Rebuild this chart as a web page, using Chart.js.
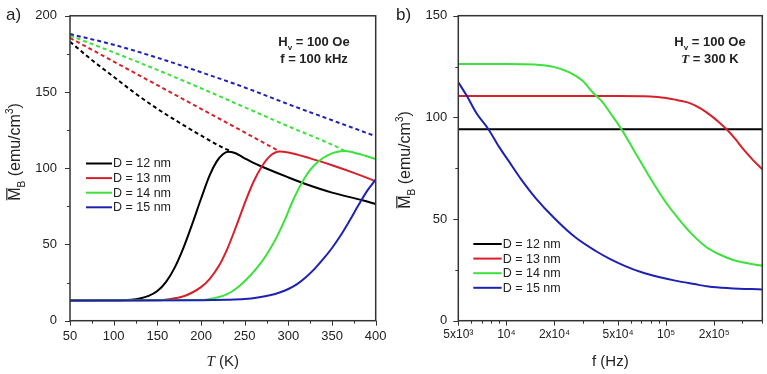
<!DOCTYPE html>
<html>
<head>
<meta charset="utf-8">
<script src="https://cdn.jsdelivr.net/npm/chart.js@4.4.0/dist/chart.umd.min.js"></script>
<style>
  body { margin: 0; background: #fff; }
  #wrap { position: relative; width: 767px; height: 374px; }
  #wrap canvas { position: absolute; top: 0; }
</style>
</head>
<body>
<div id="wrap">
  <canvas id="chartA" width="390" height="374" style="left:0"></canvas>
  <canvas id="chartB" width="377" height="374" style="left:390px"></canvas>
</div>
<script>
const seriesLabels = ["D = 12 nm", "D = 13 nm", "D = 14 nm", "D = 15 nm"];
const seriesColors = ["#000000", "#d8202a", "#3be23a", "#1e22b4"];

// panel a) temperature sweep, solid curves
const tSolid12 = [50, 110, 120, 130, 140, 150, 160, 170, 180, 190, 200, 210, 218, 225, 231, 238, 248, 260, 270, 300, 323, 350, 385, 400];
const mSolid12 = [13.3, 13.4, 13.7, 14.6, 16.3, 19.5, 25.5, 35, 48, 63.5, 80, 95.5, 104.5, 109.2, 110.8, 110.2, 107.2, 103.5, 101, 94, 89, 84, 79, 76.5];
const tSolid13 = [50, 150, 165, 180, 190, 200, 210, 220, 230, 240, 250, 260, 270, 280, 290, 300, 325, 350, 375, 400];
const mSolid13 = [13.3, 13.4, 14.2, 16, 18.5, 22, 27.5, 35.5, 47, 61.5, 77, 91, 101.5, 108.5, 111, 110.3, 106.5, 102, 97, 91.5];
const tSolid14 = [50, 200, 215, 225, 235, 245, 255, 265, 275, 285, 295, 305, 315, 325, 335, 345, 355, 365, 380, 400];
const mSolid14 = [13.3, 13.5, 14.8, 16.3, 19, 23.3, 28.8, 35.3, 43.3, 53, 65, 78.5, 90, 99, 104.8, 108.5, 110.6, 111.3, 109.5, 106];
const tSolid15 = [50, 200, 230, 250, 265, 280, 290, 300, 310, 320, 330, 340, 350, 360, 370, 380, 390, 400];
const mSolid15 = [13.3, 13.4, 13.7, 14.2, 15.2, 16.8, 18.5, 20.8, 24, 28.5, 34, 40.5, 47.7, 56, 65.5, 75.5, 85, 92.5];

// panel a) dashed extensions of the high-T branch
const tDash12 = [50, 75, 100, 125, 150, 175, 200, 225, 235];
const mDash12 = [183, 171, 160, 149, 139, 130, 121.5, 113.5, 111];
const tDash13 = [50, 100, 150, 200, 250, 290];
const mDash13 = [185.5, 170, 154.5, 139, 123.5, 111];
const tDash14 = [50, 100, 150, 200, 250, 300, 350, 365];
const mDash14 = [187, 176, 164.5, 152.5, 140, 127.5, 115.5, 111.3];
const tDash15 = [50, 100, 150, 200, 250, 300, 350, 400];
const mDash15 = [188, 181, 172.5, 163, 153, 142, 131.5, 121];

// panel b) frequency sweep at 300 K
const fB12 = [5000, 400000];
const mB12 = [94.2, 94.2];
const fB13 = [5000, 50000, 80000, 100000, 120000, 142000, 165000, 190000, 215000, 240000, 270000, 307000, 350000, 400000];
const mB13 = [110.5, 110.5, 110.3, 109.5, 108.3, 106.9, 104.3, 101, 97.5, 94, 89.5, 84, 79, 74.5];
const fB14 = [5000, 10000, 15000, 20000, 25000, 30000, 35000, 40000, 45000, 52500, 60000, 70000, 85000, 100000, 120000, 145000, 180000, 213000, 260000, 300000, 400000];
const mB14 = [126.3, 126.3, 126, 124.7, 122, 118, 112, 107.5, 101.8, 94.2, 86.5, 77.5, 66.5, 58, 50, 42.6, 36, 32.8, 30, 28.7, 27];
const fB15 = [5000, 5640, 6500, 7700, 9000, 10300, 12500, 15100, 20200, 27000, 36000, 44700, 55000, 70300, 90000, 114000, 150000, 184000, 250000, 400000];
const mB15 = [117.3, 110.7, 102, 94.3, 85.5, 78.7, 69, 60.7, 50, 41, 34.4, 30.3, 27, 23.8, 21.5, 19.7, 18, 16.8, 16, 15.4];

// tick marks and labels
const freqTicks = [5000, 6000, 7000, 8000, 9000, 10000, 20000, 30000, 40000, 50000, 60000, 70000, 80000, 90000, 100000, 200000, 300000, 400000];
const freqLabelValues = [5000, 10000, 20000, 50000, 100000, 200000];
const freqLabelText = ["5x10³", "10⁴", "2x10⁴", "5x10⁴", "10⁵", "2x10⁵"];

Chart.defaults.font.family = "'Liberation Sans', Arial, sans-serif";
Chart.defaults.color = "#222";

const SANS = "'Liberation Sans', Arial, sans-serif";
const SERIF = "'Liberation Serif', 'Times New Roman', serif";

function pts(xs, ys) {
  return xs.map((x, i) => ({ x: x, y: ys[i] }));
}

// draws a run of text pieces with sub/superscripts, overline and italic parts
function drawRich(ctx, segs, x, y, size, bold, align) {
  const fontFor = s => {
    const sz = (s.sub || s.sup) ? Math.round(size * 0.62) : size;
    return (s.it ? "italic " : "") + (bold ? "bold " : "") + sz + "px " + (s.it ? SERIF : SANS);
  };
  let w = 0;
  segs.forEach(s => { ctx.font = fontFor(s); s.w = ctx.measureText(s.t).width; w += s.w; });
  let cx = align === "left" ? x : x - w / 2;
  ctx.textAlign = "left";
  ctx.textBaseline = "alphabetic";
  segs.forEach(s => {
    ctx.font = fontFor(s);
    const dy = s.sub ? size * 0.3 : (s.sup ? -size * 0.42 : 0);
    ctx.fillText(s.t, cx, y + dy);
    if (s.over) ctx.fillRect(cx + 0.5, y - size * 0.86, s.w - 1, 1.2);
    cx += s.w;
  });
}

const decor = {
  id: "decor",
  afterDraw(chart, args, o) {
    const { ctx, chartArea: a } = chart;
    const xs = chart.scales.x, ys = chart.scales.y;
    ctx.save();
    ctx.strokeStyle = "#333";
    ctx.fillStyle = "#222";

    // tick marks, long for labelled ones
    ctx.lineWidth = 1;
    xs.ticks.forEach(t => {
      const p = Math.round(xs.getPixelForValue(t.value)) + 0.5;
      const len = t.label !== "" ? 5 : 3;
      ctx.beginPath(); ctx.moveTo(p, a.bottom); ctx.lineTo(p, a.bottom + len); ctx.stroke();
    });
    ys.ticks.forEach(t => {
      const p = Math.round(ys.getPixelForValue(t.value)) + 0.5;
      const len = t.label !== "" ? 5 : 3;
      ctx.beginPath(); ctx.moveTo(a.left, p); ctx.lineTo(a.left - len, p); ctx.stroke();
    });

    // frame
    ctx.lineWidth = 1.5;
    ctx.strokeRect(a.left, a.top, a.right - a.left, a.bottom - a.top);

    // panel letter
    ctx.font = "17px " + SANS;
    ctx.textAlign = "left";
    ctx.textBaseline = "alphabetic";
    ctx.fillText(o.panel, 6, 20);

    // axis titles
    drawRich(ctx, o.xTitle, (a.left + a.right) / 2, 366, 15, false, "center");
    ctx.save();
    ctx.translate(20, o.yTitleY);
    ctx.rotate(-Math.PI / 2);
    drawRich(ctx, [{ t: "M", over: true }, { t: "B", sub: true }, { t: " (emu/cm" }, { t: "3", sup: true }, { t: ")" }], 0, 0, 16, false, "center");
    ctx.restore();

    // conditions
    o.notes.forEach((line, i) => drawRich(ctx, line, o.noteX, 46 + i * 16.5, 13, true, "center"));

    // legend
    const lg = o.legend;
    seriesLabels.forEach((lab, i) => {
      const y = lg.y + i * lg.dy;
      ctx.strokeStyle = seriesColors[i];
      ctx.lineWidth = 2;
      ctx.beginPath(); ctx.moveTo(lg.x0, y); ctx.lineTo(lg.x1, y); ctx.stroke();
      ctx.fillStyle = "#222";
      ctx.textBaseline = "middle";
      ctx.font = "12.5px " + SANS;
      ctx.fillText(lab, lg.x1 + 1, y + 0.5);
    });
    ctx.restore();
  }
};

function solid(i, data) {
  return {
    label: seriesLabels[i], data: data, borderColor: seriesColors[i], borderWidth: 2,
    pointRadius: 0, cubicInterpolationMode: "monotone", order: 3 - i
  };
}
function dashed(i, data) {
  return {
    label: seriesLabels[i], data: data, borderColor: seriesColors[i], borderWidth: 2,
    borderDash: [4, 3], pointRadius: 0, cubicInterpolationMode: "monotone", order: 8 - i
  };
}

function axisLabel(step) {
  return v => (v % step === 0 ? String(v) : "");
}

const commonTicks = { font: { size: 13 }, color: "#222", autoSkip: false, maxRotation: 0 };
const hiddenGrid = { display: true, drawOnChartArea: false, drawTicks: true, tickLength: 5, tickColor: "rgba(0,0,0,0)" };

new Chart(document.getElementById("chartA"), {
  type: "line",
  data: {
    datasets: [
      solid(0, pts(tSolid12, mSolid12)), solid(1, pts(tSolid13, mSolid13)),
      solid(2, pts(tSolid14, mSolid14)), solid(3, pts(tSolid15, mSolid15)),
      dashed(0, pts(tDash12, mDash12)), dashed(1, pts(tDash13, mDash13)),
      dashed(2, pts(tDash14, mDash14)), dashed(3, pts(tDash15, mDash15))
    ]
  },
  options: {
    responsive: false, animation: false, events: [],
    layout: { padding: { top: 15.7, right: 14.3, left: 0, bottom: 0 } },
    scales: {
      x: {
        type: "linear", min: 50, max: 400,
        ticks: { ...commonTicks, stepSize: 25, padding: 3, callback: axisLabel(50) },
        grid: hiddenGrid, border: { display: false },
        afterFit: s => { s.height = 53.3; }
      },
      y: {
        type: "linear", min: 0, max: 200,
        ticks: { ...commonTicks, stepSize: 25, padding: 8, callback: axisLabel(50) },
        grid: hiddenGrid, border: { display: false },
        afterFit: s => { s.width = 70; }
      }
    },
    plugins: {
      legend: { display: false }, tooltip: { enabled: false },
      decor: {
        panel: "a)", yTitleY: 152,
        xTitle: [{ t: "T", it: true }, { t: " (K)" }],
        noteX: 314,
        notes: [
          [{ t: "H" }, { t: "v", sub: true }, { t: " = 100 Oe" }],
          [{ t: "f = 100 kHz" }]
        ],
        legend: { x0: 86, x1: 112, y: 163.5, dy: 14.6 }
      }
    }
  },
  plugins: [decor]
});

new Chart(document.getElementById("chartB"), {
  type: "line",
  data: {
    datasets: [
      solid(0, pts(fB12, mB12)), solid(1, pts(fB13, mB13)),
      solid(2, pts(fB14, mB14)), solid(3, pts(fB15, mB15))
    ]
  },
  options: {
    responsive: false, animation: false, events: [],
    layout: { padding: { top: 15.7, right: 4.7, left: 0, bottom: 0 } },
    scales: {
      x: {
        type: "logarithmic", min: 5000, max: 400000,
        afterBuildTicks: s => { s.ticks = freqTicks.map(v => ({ value: v })); },
        ticks: {
          ...commonTicks, font: { size: 12 }, padding: 2,
          callback: v => { const k = freqLabelValues.indexOf(v); return k < 0 ? "" : freqLabelText[k]; }
        },
        grid: hiddenGrid, border: { display: false },
        afterFit: s => { s.height = 53.3; }
      },
      y: {
        type: "linear", min: 0, max: 150,
        ticks: { ...commonTicks, stepSize: 25, padding: 6, callback: axisLabel(50) },
        grid: hiddenGrid, border: { display: false },
        afterFit: s => { s.width = 68.3; }
      }
    },
    plugins: {
      legend: { display: false }, tooltip: { enabled: false },
      decor: {
        panel: "b)", yTitleY: 160,
        xTitle: [{ t: "f (Hz)" }],
        noteX: 320,
        notes: [
          [{ t: "H" }, { t: "v", sub: true }, { t: " = 100 Oe" }],
          [{ t: "T", it: true }, { t: " = 300 K" }]
        ],
        legend: { x0: 83.3, x1: 111.7, y: 244, dy: 14.6 }
      }
    }
  },
  plugins: [decor]
});
</script>
</body>
</html>
